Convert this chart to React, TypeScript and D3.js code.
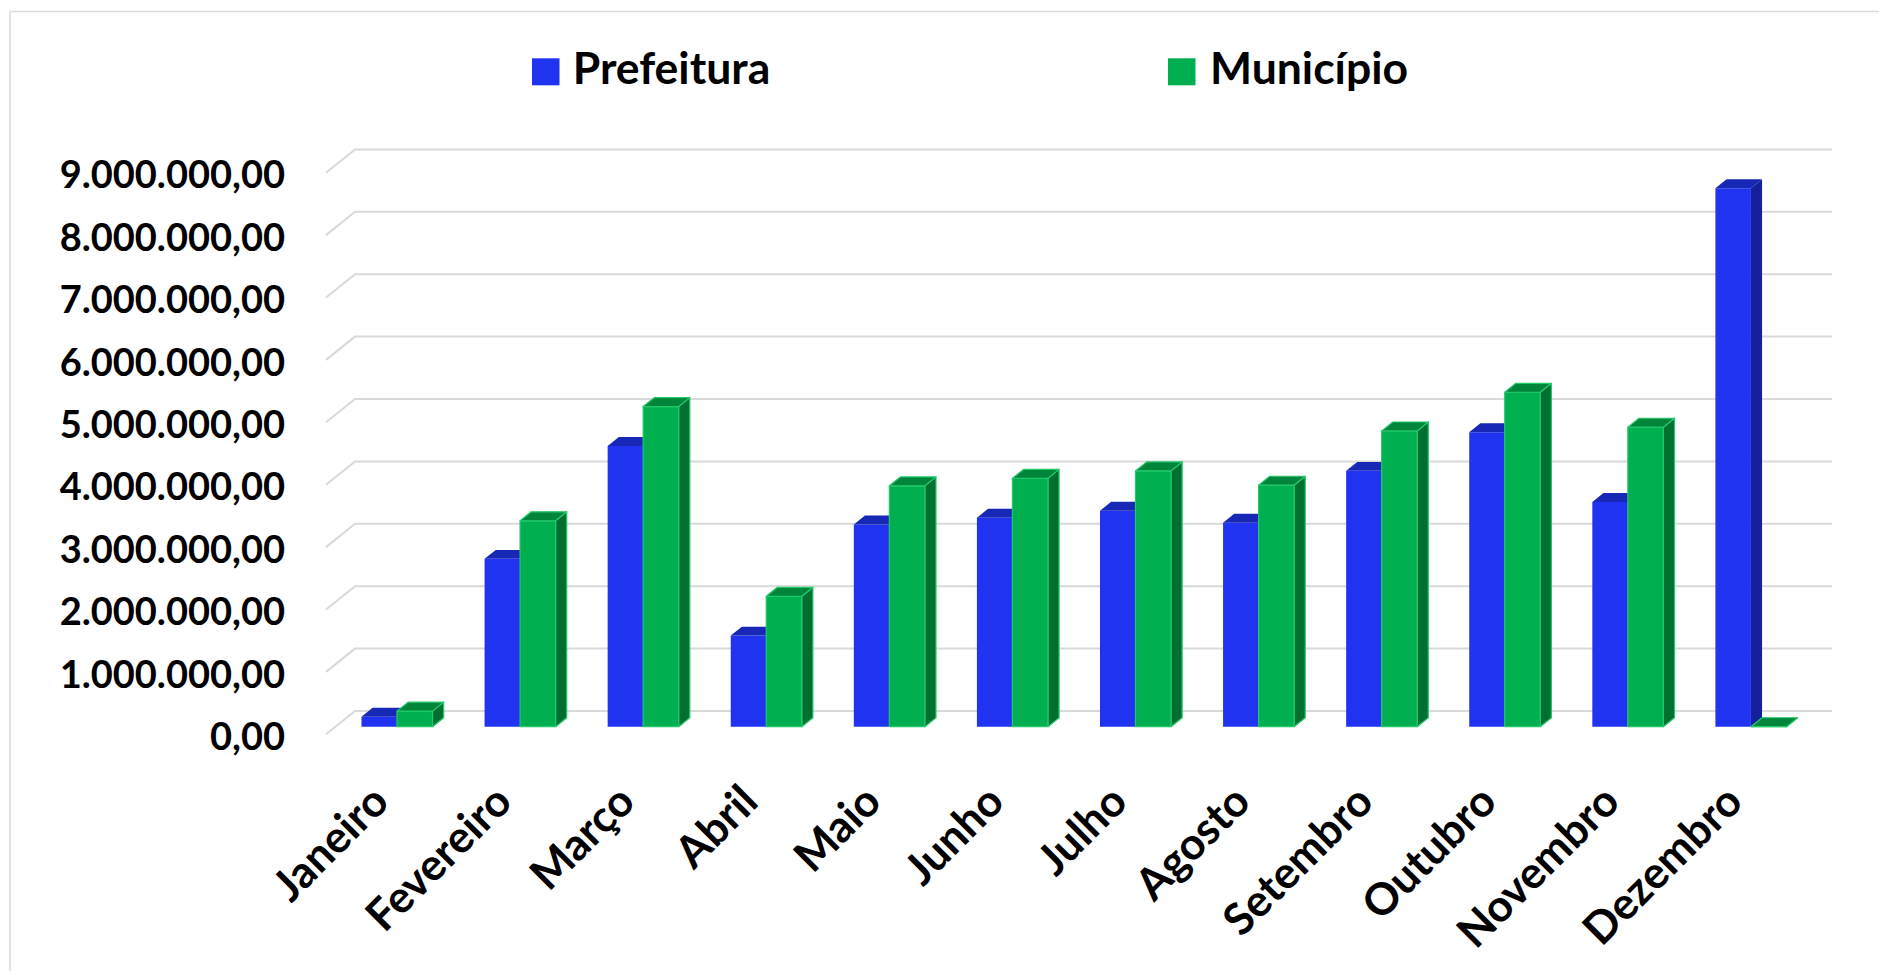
import React, { useEffect, useRef } from "react";
import * as d3 from "d3";

// Monthly totals (R$)
const months = [
  "Janeiro",
  "Fevereiro",
  "Março",
  "Abril",
  "Maio",
  "Junho",
  "Julho",
  "Agosto",
  "Setembro",
  "Outubro",
  "Novembro",
  "Dezembro",
];
const prefeitura = [
  160000, 2690000, 4500000, 1460000, 3240000, 3350000, 3460000, 3270000,
  4100000, 4720000, 3600000, 8630000,
];
const municipio = [
  250000, 3300000, 5130000, 2090000, 3860000, 3980000, 4100000, 3870000,
  4740000, 5360000, 4800000, 0,
];
const seriesNames = ["Prefeitura", "Município"];
const yTicks = [
  0, 1000000, 2000000, 3000000, 4000000, 5000000, 6000000, 7000000, 8000000,
  9000000,
];

const palette: Record<string, { front: string; top: string; side: string; edge: string }> = {
  Prefeitura: { front: "#1f33f0", top: "#1828b6", side: "#141f9c", edge: "none" },
  Município: { front: "#00af4f", top: "#00853a", side: "#006f30", edge: "#22c96a" },
};

const W = 1879;
const H = 971;
const FONT = "Lato, 'Open Sans', sans-serif";

export default function App() {
  const ref = useRef<SVGSVGElement | null>(null);

  useEffect(() => {
    const svg = d3.select(ref.current);
    svg.selectAll("*").remove();

    // oblique 3D: depth vector from the front edge of the floor to the back wall
    const depthX = 29;
    const depthY = -23.3;
    const barFront = 0.326;
    const barBack = 0.71;

    const x = d3
      .scaleBand<string>()
      .domain(months)
      .range([326, 1803])
      .paddingInner(0.423)
      .paddingOuter(0.2115);

    const x1 = d3
      .scaleBand<string>()
      .domain(seriesNames)
      .range([0, x.bandwidth()]);

    const y = d3.scaleLinear().domain([0, 9000000]).range([734.3, 172.7]);

    const locale = d3.formatLocale({
      decimal: ",",
      thousands: ".",
      grouping: [3],
      currency: ["", ""],
    });
    const fmt = locale.format(",.2f");

    // outer border
    svg
      .append("rect")
      .attr("x", 10)
      .attr("y", 11.5)
      .attr("width", W + 40)
      .attr("height", H + 40)
      .attr("fill", "#fff")
      .attr("stroke", "#d9d9d9")
      .attr("stroke-width", 1.5);

    // gridlines on the back wall, with the diagonal on the side wall
    const grid = svg.append("g");
    yTicks.forEach((t) => {
      const yb = y(t) + depthY;
      grid
        .append("path")
        .attr("fill", "none")
        .attr("stroke", "#d9d9d9")
        .attr("stroke-width", 2)
        .attr(
          "d",
          `M${x.range()[0]},${y(t)}L${x.range()[0] + depthX},${yb}L${x.range()[1] + depthX},${yb}`
        );
    });

    // y-axis labels
    svg
      .append("g")
      .selectAll("text")
      .data(yTicks)
      .join("text")
      .attr("x", 285)
      .attr("y", (d) => y(d) + 2)
      .attr("dy", "0.36em")
      .attr("text-anchor", "end")
      .attr("font-family", FONT)
      .attr("font-weight", 700)
      .attr("font-size", 38)
      .attr("fill", "#000")
      .text((d) => fmt(d));

    // bars
    const bars = svg.append("g");
    months.forEach((m, i) => {
      [prefeitura[i], municipio[i]].forEach((v, s) => {
        const key = seriesNames[s];
        const c = palette[key];
        const x0 = (x(m) as number) + (x1(key) as number) + barFront * depthX;
        const x2 = x0 + x1.bandwidth();
        const yBase = y(0) + barFront * depthY;
        const yTop = y(v) + barFront * depthY;
        const dx = (barBack - barFront) * depthX;
        const dy = (barBack - barFront) * depthY;
        const g = bars.append("g").attr("stroke", c.edge).attr("stroke-width", 1.2).attr("stroke-linejoin", "round");
        g.append("path")
          .attr("fill", c.side)
          .attr("d", `M${x2},${yTop}L${x2 + dx},${yTop + dy}L${x2 + dx},${yBase + dy}L${x2},${yBase}Z`);
        g.append("path")
          .attr("fill", c.front)
          .attr("d", `M${x0},${yTop}L${x2},${yTop}L${x2},${yBase}L${x0},${yBase}Z`);
        g.append("path")
          .attr("fill", c.top)
          .attr("d", `M${x0},${yTop}L${x2},${yTop}L${x2 + dx},${yTop + dy}L${x0 + dx},${yTop + dy}Z`);
      });
    });

    // x-axis labels, rotated
    svg
      .append("g")
      .selectAll("text")
      .data(months)
      .join("text")
      .attr("text-anchor", "end")
      .attr("font-family", FONT)
      .attr("font-weight", 700)
      .attr("font-size", 44)
      .attr("fill", "#000")
      .attr("transform", (d) => `translate(${(x(d) as number) + x.bandwidth() / 2 + 3.5},804) rotate(-45)`)
      .text((d) => d);

    // legend
    const legendPos = [
      { key: "Prefeitura", sx: 532, tx: 572.7 },
      { key: "Município", sx: 1168, tx: 1210 },
    ];
    const legend = svg.append("g");
    legendPos.forEach((l) => {
      legend
        .append("rect")
        .attr("x", l.sx)
        .attr("y", 58.3)
        .attr("width", 27.5)
        .attr("height", 27)
        .attr("fill", palette[l.key].front);
      legend
        .append("text")
        .attr("x", l.tx)
        .attr("y", 84.3)
        .attr("font-family", FONT)
        .attr("font-weight", 700)
        .attr("font-size", 44.5)
        .attr("fill", "#000")
        .text(l.key);
    });
  }, []);

  return (
    <svg
      ref={ref}
      width={W}
      height={H}
      viewBox={`0 0 ${W} ${H}`}
      style={{ position: "absolute", left: 0, top: 0, background: "#fff" }}
    />
  );
}
